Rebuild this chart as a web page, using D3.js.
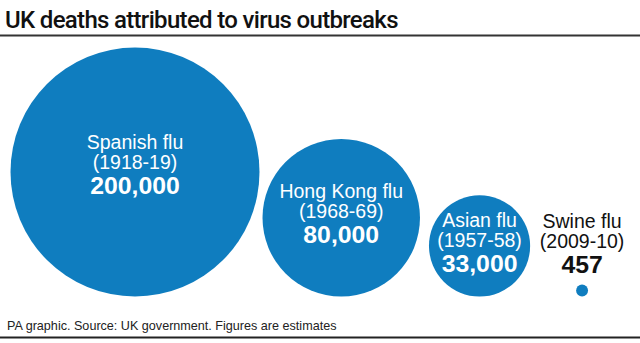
<!DOCTYPE html>
<html>
<head>
<meta charset="utf-8">
<script src="https://cdn.jsdelivr.net/npm/d3@7"></script>
<style>
  html, body { margin: 0; padding: 0; background: #fff; }
  svg { display: block; }
  text { font-family: "Liberation Sans", Arial, Helvetica, sans-serif; }
</style>
</head>
<body>
<svg id="chart" width="640" height="343"></svg>
<script>
// Outbreaks and estimated UK deaths
const outbreaks = ["Spanish flu", "Hong Kong flu", "Asian flu", "Swine flu"];
const periods = ["(1918-19)", "(1968-69)", "(1957-58)", "(2009-10)"];
const deaths = [200000, 80000, 33000, 457];
const valueLabels = ["200,000", "80,000", "33,000", "457"];

const W = 640, H = 343;
const blue = "#0f7dbf";
const baseY = 296.5;          // circles sit on a common baseline
const leftEdge = 10.5;
const gaps = [3, 9, 46];      // horizontal space between neighbouring circles

const svg = d3.select("#chart");

// Area-proportional radius
const r = d3.scaleSqrt().domain([0, d3.max(deaths)]).range([0, 124.5]);

// Lay the circles out left to right
const nodes = [];
let cursor = leftEdge;
deaths.forEach((v, i) => {
  const rad = r(v);
  if (i > 0) cursor += gaps[i - 1];
  nodes.push({ name: outbreaks[i], period: periods[i], label: valueLabels[i], value: v,
               r: rad, cx: cursor + rad, cy: baseY - rad });
  cursor += 2 * rad;
});

// Title and rules
svg.append("text")
  .attr("x", 5).attr("y", 27.5)
  .style("font-family", "Roboto, 'Liberation Sans', sans-serif")
  .attr("font-size", 24).attr("font-weight", 500)
  .attr("letter-spacing", -0.68)
  .attr("fill", "#111")
  .text("UK deaths attributed to virus outbreaks");

svg.append("line").attr("x1", 0).attr("x2", W).attr("y1", 35.5).attr("y2", 35.5)
  .attr("stroke", "#333").attr("stroke-width", 2);
svg.append("line").attr("x1", 0).attr("x2", W).attr("y1", 337.5).attr("y2", 337.5)
  .attr("stroke", "#222").attr("stroke-width", 2);

// Circles
svg.selectAll("circle.bubble").data(nodes).join("circle")
  .attr("class", "bubble")
  .attr("cx", d => d.cx).attr("cy", d => d.cy).attr("r", d => d.r)
  .attr("fill", blue);

// Labels: inside large circles, above tiny ones
const labels = svg.selectAll("g.label").data(nodes).join("g")
  .attr("class", "label")
  .attr("transform", d => {
    const inside = d.r > 30;
    const b1 = inside ? d.cy - 0.06 * d.r - 15.5 : d.cy - 18 - 45;
    return `translate(${d.cx},${b1})`;
  })
  .attr("text-anchor", "middle")
  .attr("fill", d => d.r > 30 ? "#fff" : "#111");

labels.append("text").attr("y", 0).attr("font-size", 19.5).text(d => d.name);
labels.append("text").attr("y", 20).attr("font-size", 19.5).text(d => d.period);
labels.append("text").attr("y", 45).attr("font-size", 24.8).attr("font-weight", 700).text(d => d.label);

// Footer
svg.append("text")
  .attr("x", 7).attr("y", 330)
  .attr("font-size", 12.6).attr("fill", "#222")
  .text("PA graphic. Source: UK government. Figures are estimates");
</script>
</body>
</html>
